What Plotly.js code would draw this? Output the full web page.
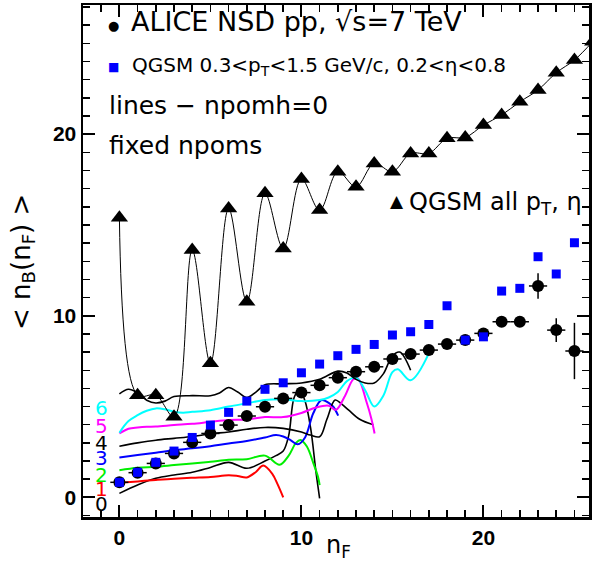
<!DOCTYPE html>
<html><head><meta charset="utf-8">
<script src="https://cdn.plot.ly/plotly-3.0.1.min.js"></script>
<style>html,body{margin:0;padding:0;background:#fff}#c{width:594px;height:563px}</style>
</head><body><div id="c"></div>
<script>
// ---- data ----
const nF = [0,1,2,3,4,5,6,7,8,9,10,11,12,13,14,15,16,17,18,19,20,21,22,23,24,25];
const aliceY = [0.83,1.36,1.87,2.42,3.03,3.52,3.98,4.48,4.99,5.45,5.77,6.17,6.59,6.92,7.19,7.62,7.89,8.11,8.44,8.66,9.03,9.67,9.67,11.64,9.21,8.06];
const aliceErr = [0.15,0.15,0.15,0.15,0.15,0.15,0.15,0.15,0.15,0.15,0.15,0.15,0.15,0.15,0.15,0.15,0.15,0.15,0.15,0.15,0.15,0.15,0.15,0.7,0.65,1.55];
const qgsmCutY = [0.83,1.38,1.93,2.55,3.30,3.98,4.68,5.30,5.95,6.31,6.86,7.34,7.80,8.15,8.42,8.94,9.12,9.52,10.55,8.66,8.84,11.36,11.51,13.25,12.3,14.02];
const qgsmAllX = [0,1,2,3,4,5,6,7,8,9,10,11,12,13,14,15,16,17,18,19,20,21,22,23,24,25,26];
const qgsmAllY = [15.4,5.63,5.63,4.44,13.62,7.38,15.91,10.77,16.74,13.71,17.53,15.82,17.93,17.1,18.39,17.93,18.94,18.94,19.77,19.82,20.5,21.05,21.78,22.43,23.38,24.08,25.09];

const np0X = [0,1,2,3,4,5,6,7,8,8.6,9,9.3,9.6,9.9,10.2,10.5,10.8,11.0];
const np0Y = [0.22,0.68,1.05,1.23,1.38,1.65,1.93,1.6,2.0,2.3,2.55,3.4,5.5,5.95,5.3,3.85,1.4,-0.05];
const np1X = [0,1,2,3,4,5,6,6.5,7,7.5,7.9,8.4,8.7,9.0];
const np1Y = [0.8,0.88,0.96,1.03,1.08,1.12,1.22,1.18,1.1,1.4,1.75,1.3,0.7,0.0];
const np2X = [0,1,2,3,4,5,6,7,8,8.8,9.3,9.7,9.95,10.3,10.65,10.92,11.0];
const np2Y = [1.5,1.63,1.69,1.78,1.87,1.96,2.07,2.1,2.3,1.8,2.3,3.0,3.16,2.8,1.9,1.1,0.68];
const np3X = [0,1,2,3,4,5,6,7,8,8.6,9,9.4,9.8,10.2,10.65,11.1,11.5,11.75,12.02];
const np3Y = [2.2,2.33,2.46,2.6,2.7,2.82,2.97,3.1,3.3,3.43,3.35,3.15,2.92,3.3,4.63,5.36,5.2,4.99,4.5];
const np4X = [0,1,2,3,4,5,6,7,8,9,10,10.5,11,11.4,11.85,12.2,12.6,13.2,13.95];
const np4Y = [2.82,3.0,3.15,3.25,3.35,3.5,3.6,3.75,3.85,3.8,3.6,3.43,3.34,4.3,5.36,5.15,4.8,4.3,4.0];
const np5X = [0,0.5,1,1.5,2,3,4,5,6,7,8,9,10,10.8,11.5,11.9,12.4,12.85,13.1,13.6,13.85,14.02];
const np5Y = [3.52,3.78,3.85,3.89,3.9,3.98,4.05,4.16,4.26,4.29,4.42,4.42,4.65,4.95,5.05,4.82,5.6,6.5,6.55,5.18,4.3,3.52];
const np6X = [0,0.5,1,1.5,2,2.5,3,3.5,4,5,6,7,8,9,10,11,11.5,12,12.5,13,13.5,14,14.5,15,15.3,16,17];
const np6Y = [3.56,4.2,4.53,4.77,4.9,4.85,4.72,4.66,4.71,4.8,5.0,5.18,5.36,5.4,5.3,5.36,5.5,5.8,6.4,6.6,5.9,5.0,5.6,6.9,7.05,6.45,7.93];
const np7X = [0,0.5,1,1.5,2,2.5,3,4,5,5.5,6,6.5,7,7.5,8,9,10,11,12,12.5,13,13.5,14,14.5,15,15.4,16];
const np7Y = [5.7,5.95,5.75,5.35,5.2,5.3,5.55,5.6,5.6,5.75,6.05,5.8,5.5,5.8,6.2,6.25,6.3,6.5,6.95,6.85,6.5,6.3,6.3,6.8,7.8,8.0,7.0];

const npomLabels = ['0','1','2','3','4','5','6'];
const npomLabelY = [-0.37,0.46,1.24,2.15,3.02,3.93,4.91];
const npomColors = ['#000000','#ff0000','#00ee00','#0000ff','#000000','#ff00ff','#00ffff'];

// ---- traces ----
function curve(x, y, color, w) {
  return {x:x, y:y, type:'scatter', mode:'lines', showlegend:false, hoverinfo:'skip',
    line:{color:color, width:w, shape:'spline', smoothing:1}};
}
const curves = [[np0X,np0Y],[np1X,np1Y],[np2X,np2Y],[np3X,np3Y],[np4X,np4Y],[np5X,np5Y],[np6X,np6Y]];
const traces = [];
curves.forEach((c,i)=>traces.push(curve(c[0], c[1], npomColors[i], i===0||i===4?1.6:2)));
traces.push(curve(np7X, np7Y, '#000000', 1.6));
traces.push({x:qgsmAllX, y:qgsmAllY, type:'scatter', mode:'lines+markers', showlegend:false,
  line:{color:'#000', width:1, shape:'spline', smoothing:1},
  marker:{symbol:'triangle-up', size:15, color:'#000'}});
traces.push({x:nF, y:aliceY, type:'scatter', mode:'markers', showlegend:false,
  marker:{symbol:'circle', size:12, color:'#000'},
  error_x:{type:'constant', value:0.5, thickness:1.5, width:0, color:'#000'},
  error_y:{type:'data', array:aliceErr, thickness:1.5, width:0, color:'#000'}});
traces.push({x:nF, y:qgsmCutY, type:'scatter', mode:'markers', showlegend:false,
  marker:{symbol:'square', size:9, color:'#0000ff'}});

// ---- layout ----
const W=594, H=563, ML=83, MR=5, MT=5, MB=46;
const PW=W-ML-MR, PH=H-MT-MB;
function P(px,py){return {x:(px-ML)/PW, y:(H-MB-py)/PH};}
const DJ='DejaVu Sans, Liberation Sans, sans-serif';
function ann(text, px, py, size, color, anchor, extra){
  const p=P(px,py);
  return Object.assign({text:text, x:p.x, y:p.y, xref:'paper', yref:'paper', showarrow:false,
    xanchor:anchor||'left', yanchor:'middle', font:{family:DJ, size:size, color:color||'#000'}}, extra||{});
}
const annotations = [
  ann('●', 113, 25, 13, '#000', 'center'),
  ann('ALICE NSD pp, √s=7 TeV', 129, 21, 27),
  ann('■', 113, 67, 12, '#0000ff', 'center'),
  ann('QGSM 0.3&lt;p<sub>T</sub>&lt;1.5 GeV/c, 0.2&lt;η&lt;0.8', 130, 66, 20),
  ann('lines − npomh=0', 107, 105, 25),
  ann('fixed npoms', 107, 145, 25),
  ann('▲', 397, 201, 17, '#000', 'center'),
  ann('QGSM all p<sub>T</sub>, η', 407, 203, 24),
  ann('n<sub>F</sub>', 324, 546, 24),
  ann('&lt; n<sub>B</sub>(n<sub>F</sub>) &gt;', 22, 262, 26, '#000', 'center', {textangle:-90}),
];
npomLabels.forEach((t,i)=>annotations.push({text:t, x:-1.0, y:npomLabelY[i], xref:'x', yref:'y',
  showarrow:false, xanchor:'center', yanchor:'middle', font:{family:DJ, size:20, color:npomColors[i]}}));

const axisCommon = {showline:true, linewidth:2.5, linecolor:'#000', mirror:'allticks',
  ticks:'inside', ticklen:12, tickwidth:2, tickcolor:'#000', dtick:10, tick0:0,
  showgrid:false, zeroline:false,
  minor:{dtick:1, ticks:'inside', ticklen:7, tickwidth:1.5, tickcolor:'#000', showgrid:false},
  tickfont:{family:'Liberation Sans, Arial, sans-serif', size:21, color:'#000', weight:'bold'}};

const layout = {
  width:W, height:H, margin:{l:ML, r:MR, t:MT, b:MB},
  paper_bgcolor:'#fff', plot_bgcolor:'#fff', showlegend:false,
  xaxis:Object.assign({}, axisCommon, {range:[-2.0, 25.8]}),
  yaxis:Object.assign({}, axisCommon, {range:[-1.08, 27.11]}),
  annotations:annotations
};
Plotly.newPlot('c', traces, layout, {staticPlot:true});
</script></body></html>
